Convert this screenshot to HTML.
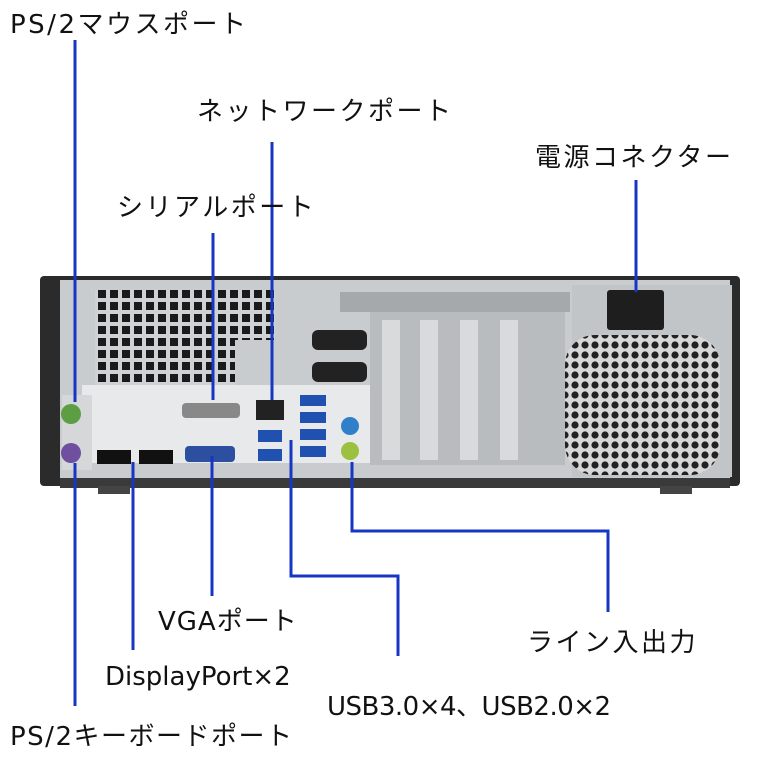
<!DOCTYPE html>
<html><head><meta charset="utf-8"><style>
body{margin:0;background:#fff;width:779px;height:779px;overflow:hidden;position:relative;font-family:"DejaVu Sans","Noto Sans CJK JP",sans-serif}
.t{position:absolute;font-size:26px;color:#111;white-space:nowrap;line-height:1;letter-spacing:2.5px}
svg{position:absolute;left:0;top:0}
</style></head><body>
<svg width="779" height="779" viewBox="0 0 779 779">
<defs>
<pattern id="grid" width="12" height="12" patternUnits="userSpaceOnUse"><rect width="12" height="12" fill="#cfd2d4"/><rect x="2" y="2" width="8" height="8" fill="#1a1a1a"/></pattern>
<pattern id="hex" width="10" height="10" patternUnits="userSpaceOnUse"><rect width="10" height="10" fill="#d8d8d8"/><circle cx="5" cy="5" r="3.6" fill="#222"/></pattern>
</defs>
<rect x="40" y="276" width="700" height="210" rx="4" fill="#2b2b2b"/>
<rect x="60" y="280" width="670" height="200" fill="#c9cccf"/>
<rect x="60" y="478" width="670" height="10" fill="#3a3a3a"/>
<rect x="98" y="486" width="32" height="8" fill="#444"/>
<rect x="660" y="486" width="32" height="8" fill="#444"/>
<rect x="95" y="290" width="140" height="96" fill="url(#grid)"/>
<rect x="235" y="290" width="40" height="50" fill="url(#grid)"/>
<rect x="82" y="385" width="296" height="78" fill="#e8e9ea"/>
<rect x="62" y="395" width="30" height="75" fill="#d5d7d8"/>
<circle cx="71" cy="414" r="10" fill="#5d9e44"/>
<circle cx="71" cy="453" r="10" fill="#6e4fa0"/>
<rect x="182" y="403" width="58" height="15" rx="4" fill="#888"/>
<rect x="185" y="446" width="50" height="16" rx="4" fill="#2d4fa0"/>
<rect x="97" y="450" width="34" height="14" fill="#111"/>
<rect x="139" y="450" width="34" height="14" fill="#111"/>
<rect x="256" y="400" width="28" height="20" fill="#222"/>
<rect x="258" y="430" width="24" height="12" fill="#2050b0"/><rect x="258" y="449" width="24" height="12" fill="#2050b0"/>
<rect x="300" y="395" width="26" height="11" fill="#2050b0"/><rect x="300" y="412" width="26" height="11" fill="#2050b0"/>
<rect x="300" y="429" width="26" height="11" fill="#2050b0"/><rect x="300" y="446" width="26" height="11" fill="#2050b0"/>
<circle cx="350" cy="426" r="9" fill="#2f80c8"/><circle cx="350" cy="451" r="9" fill="#9cc040"/>
<rect x="370" y="300" width="195" height="165" fill="#b8bcbf"/>
<rect x="382" y="320" width="18" height="140" fill="#d8dadc"/><rect x="420" y="320" width="18" height="140" fill="#d8dadc"/>
<rect x="460" y="320" width="18" height="140" fill="#d8dadc"/><rect x="500" y="320" width="18" height="140" fill="#d8dadc"/>
<rect x="340" y="292" width="230" height="20" fill="#a5a9ac"/>
<rect x="312" y="330" width="55" height="20" rx="6" fill="#222"/><rect x="312" y="362" width="55" height="20" rx="6" fill="#222"/>
<rect x="572" y="285" width="160" height="192" fill="#c2c5c8"/>
<rect x="607" y="290" width="57" height="40" rx="3" fill="#1e1e1e"/>
<rect x="565" y="335" width="155" height="140" rx="30" fill="url(#hex)"/>
<g stroke="#1836c4" stroke-width="3" fill="none">
<path d="M75 40V402"/>
<path d="M272 142V400"/>
<path d="M213 233V400"/>
<path d="M636 180V292"/>
<path d="M75 463V706"/>
<path d="M133 462V650"/>
<path d="M212 456V596"/>
<path d="M291 440V576H398V656"/>
<path d="M352 462V531H608V612"/>
</g>
</svg>
<div class="t" style="left:10px;top:12px">PS/2マウスポート</div>
<div class="t" style="left:197px;top:99px">ネットワークポート</div>
<div class="t" style="left:535px;top:145px">電源コネクター</div>
<div class="t" style="left:117px;top:195px">シリアルポート</div>
<div class="t" style="left:158px;top:609px;letter-spacing:1px">VGAポート</div>
<div class="t" style="left:527px;top:630px">ライン入出力</div>
<div class="t" style="left:105px;top:664px;letter-spacing:0">DisplayPort×2</div>
<div class="t" style="left:327px;top:694px;letter-spacing:-0.5px">USB3.0×4、USB2.0×2</div>
<div class="t" style="left:10px;top:724px;letter-spacing:1.5px">PS/2キーボードポート</div>
</body></html>
